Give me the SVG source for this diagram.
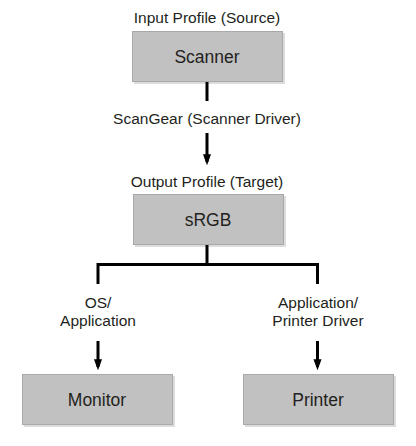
<svg xmlns="http://www.w3.org/2000/svg" width="416" height="446" viewBox="0 0 416 446">
<defs>
<style>
.box{fill:#c1c1c1;stroke:#a9a9a9;stroke-width:1}
.shadow{fill:#dcdcdc}
.bt{font-family:"Liberation Sans",Arial,"Noto Sans CJK JP",sans-serif;font-size:17.5px;fill:#231f20;text-anchor:middle}
.lt{font-family:"Liberation Sans",Arial,"Noto Sans CJK JP",sans-serif;font-size:15.5px;fill:#231f20;text-anchor:middle}
.ln{stroke:#000;stroke-width:3;fill:none}
</style>
<marker id="ah" markerUnits="userSpaceOnUse" markerWidth="11" markerHeight="15" refX="10.5" refY="5.5" orient="auto" viewBox="0 0 15 11">
<path d="M0,0 L15,5.5 L0,11 Z" fill="#000"/>
</marker>
</defs>
<rect width="416" height="446" fill="#fff"/>
<g id="label-input"><text class="lt" x="207" y="23">Input Profile (Source)</text></g>
<g id="scanner">
<rect class="shadow" x="134" y="33" width="151" height="51"/>
<rect class="box" x="132.5" y="31.5" width="150" height="50"/>
<text class="bt" x="207" y="63">Scanner</text>
</g>
<g id="label-scangear"><text class="lt" x="207" y="124">ScanGear (Scanner Driver)</text></g>
<g id="label-output"><text class="lt" x="207" y="187">Output Profile (Target)</text></g>
<g id="srgb">
<rect class="shadow" x="135" y="196" width="151" height="51"/>
<rect class="box" x="133.5" y="194.5" width="150" height="50"/>
<text class="bt" x="208" y="226">sRGB</text>
</g>
<g id="label-os"><text class="lt" x="98" y="308">OS/ </text><text class="lt" x="98" y="326">Application</text></g>
<g id="label-app"><text class="lt" x="318" y="308">Application/</text><text class="lt" x="318" y="326">Printer Driver</text></g>
<g id="monitor">
<rect class="shadow" x="24" y="376" width="151" height="51"/>
<rect class="box" x="22.5" y="374.5" width="150" height="50"/>
<text class="bt" x="97" y="406">Monitor</text>
</g>
<g id="printer">
<rect class="shadow" x="245" y="376" width="151" height="51"/>
<rect class="box" x="243.5" y="374.5" width="150" height="50"/>
<text class="bt" x="318" y="406">Printer</text>
</g>
<g id="connectors">
<line class="ln" x1="207" y1="82" x2="207" y2="101"/>
<line class="ln" x1="207" y1="133" x2="207" y2="162" marker-end="url(#ah)"/>
<polyline class="ln" points="207,245 207,264.5 98,264.5 98,284"/>
<polyline class="ln" points="207,264.5 317.5,264.5 317.5,284"/>
<line class="ln" x1="98" y1="341" x2="98" y2="367" marker-end="url(#ah)"/>
<line class="ln" x1="317.5" y1="341" x2="317.5" y2="367" marker-end="url(#ah)"/>
</g>
</svg>
